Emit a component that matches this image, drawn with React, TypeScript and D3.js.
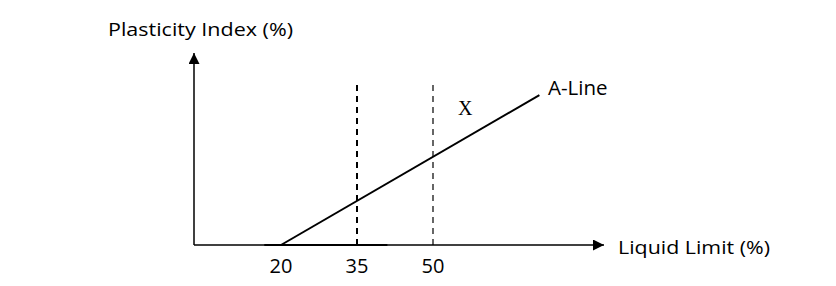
import React from "react";
import * as d3 from "d3";

const xTicks = [20, 35, 50];
const dashedAt = [35, 50];
const aLineLL = [20, 71];
const aLinePI = aLineLL.map((v) => 0.73 * (v - 20));
const xLabel = "Liquid Limit (%)";
const yLabel = "Plasticity Index (%)";
const lineLabel = "A-Line";
const zoneLabel = "X";

const W = 836;
const H = 286;

export default function App() {
  const x = d3.scaleLinear().domain([20, 50]).range([281, 433]);
  const y = d3.scaleLinear().domain([0, 40]).range([245, 84]);
  const x0 = x.invert(194);
  const xEnd = x.invert(604);
  const yTop = y.invert(53);
  const dashTop = y.invert(80);
  const line = d3.line<number>().x((d) => x(aLineLL[d])).y((d) => y(aLinePI[d]));
  const font = "'Open Sans', Lato, sans-serif";
  return (
    <svg width={W} height={H} style={{ position: "absolute", left: 0, top: 0, background: "#fff" }}>
      <defs>
        <marker id="arr" viewBox="0 0 10 10" refX="10" refY="5" markerWidth="11" markerHeight="11" markerUnits="userSpaceOnUse" orient="auto">
          <path d="M0,0 L10,5 L0,10 Z" fill="#000" />
        </marker>
      </defs>
      <line x1={x(x0)} y1={y(0)} x2={x(x0)} y2={y(yTop)} stroke="#000" strokeWidth={1.5} markerEnd="url(#arr)" />
      <line x1={x(x0)} y1={y(0)} x2={x(xEnd)} y2={y(0)} stroke="#000" strokeWidth={1.5} markerEnd="url(#arr)" />
      <line x1={x(16.7)} y1={y(0)} x2={x(41)} y2={y(0)} stroke="#000" strokeWidth={2} />
      {dashedAt.map((v, i) => (
        <line key={v} x1={x(v)} x2={x(v)} y1={y(0)} y2={y(dashTop)} stroke="#000" strokeWidth={i === 0 ? 2 : 1.2} strokeDasharray="6,5" />
      ))}
      <path d={line([0, 1]) || ""} stroke="#000" strokeWidth={2} fill="none" />
      {xTicks.map((v) => (
        <text key={v} x={x(v)} y={273} textAnchor="middle" fontFamily={font} fontSize={20} fill="#000">{v}</text>
      ))}
      <text x={618} y={254} fontFamily={font} fontSize={19} fill="#000" textLength={152} lengthAdjust="spacingAndGlyphs">{xLabel}</text>
      <text x={108} y={36} fontFamily={font} fontSize={19} fill="#000" textLength={185} lengthAdjust="spacingAndGlyphs">{yLabel}</text>
      <text x={548} y={95} fontFamily={font} fontSize={20.5} fill="#000">{lineLabel}</text>
      <text x={458} y={115} fontFamily="'Liberation Serif', 'DejaVu Serif', serif" fontSize={20} fill="#000">{zoneLabel}</text>
    </svg>
  );
}
